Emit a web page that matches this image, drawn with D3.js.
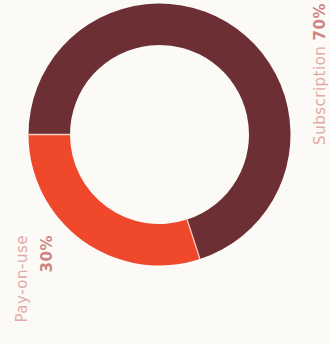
<!DOCTYPE html>
<html><head><meta charset="utf-8">
<script src="https://cdn.jsdelivr.net/npm/d3@7"></script>
<style>
html,body{margin:0;padding:0;background:#fbfaf6;}
svg{display:block;}
</style></head>
<body>
<svg id="chart" width="329" height="344"></svg>
<script>
const categories = ["Subscription", "Pay-on-use"];
const values = [70, 30];
const colors = ["#6c2f33", "#ef482b"];
const percentLabels = ["70%", "30%"];

const W = 329, H = 344;
const svg = d3.select("#chart");
svg.append("rect").attr("width", W).attr("height", H).attr("fill", "#fbfaf6");

// whole chart is rotated -90deg
const g = svg.append("g").attr("transform", `translate(0,${H}) rotate(-90)`);

const cx = 209.5, cy = 159.5, rIn = 89.5, rOut = 131;
const pie = d3.pie().sort(null).value(d => d)(values);
const arc = d3.arc().innerRadius(rIn).outerRadius(rOut);

const donut = g.append("g").attr("transform", `translate(${cx},${cy})`);
donut.selectAll("path").data(pie).join("path")
  .attr("d", arc)
  .attr("fill", (d, i) => colors[i]);

// separators at slice boundaries
donut.selectAll("line").data(pie).join("line")
  .attr("x1", d => rIn * Math.sin(d.startAngle))
  .attr("y1", d => -rIn * Math.cos(d.startAngle))
  .attr("x2", d => rOut * Math.sin(d.startAngle))
  .attr("y2", d => -rOut * Math.cos(d.startAngle))
  .attr("stroke", "#f6cfc6")
  .attr("stroke-width", 1.3);

const font = "'DejaVu Sans', sans-serif";
// Subscription label
const t1 = g.append("text")
  .attr("x", 341).attr("y", 325)
  .attr("text-anchor", "end")
  .attr("font-family", font).attr("font-size", 15)
  .attr("letter-spacing", 0.5);
t1.append("tspan").attr("fill", "#e2aaa6").text(categories[0] + " ");
t1.append("tspan").attr("fill", "#cf8581").attr("font-weight", "bold").text(percentLabels[0]);

// Pay-on-use label
const t2 = g.append("text")
  .attr("text-anchor", "end")
  .attr("font-family", font).attr("font-size", 15)
  .attr("letter-spacing", 0.5);
t2.append("tspan").attr("x", 109).attr("y", 27).attr("fill", "#e2aaa6").text(categories[1]);
t2.append("tspan").attr("x", 109).attr("y", 52).attr("fill", "#cf8581").attr("font-weight", "bold").text(percentLabels[1]);
</script>
</body></html>
